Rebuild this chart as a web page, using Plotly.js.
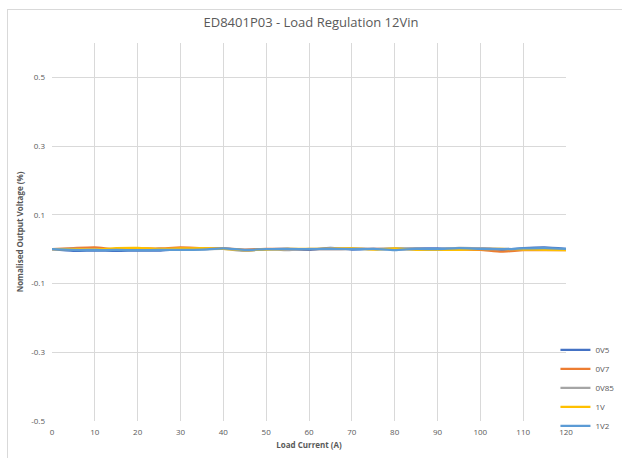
<!DOCTYPE html>
<html>
<head>
<meta charset="utf-8">
<script src="https://cdn.plot.ly/plotly-3.0.1.min.js"></script>
<style>
  html, body { margin: 0; padding: 0; background: #ffffff; }
  #wrap { position: relative; width: 622px; height: 458px; overflow: hidden; }
  #chart { position: absolute; left: 0; top: 0; width: 622px; height: 458px; }
  #frame { position: absolute; left: 7px; top: 9px; width: 620px; height: 460px; border: 1px solid #d9d9d9; box-sizing: border-box; pointer-events: none; }
</style>
</head>
<body>
<div id="wrap">
  <div id="chart"></div>
  <div id="frame"></div>
</div>
<script>
const loadCurrent = [0, 5, 10, 15, 20, 25, 30, 35, 40, 45, 50, 55, 60, 65, 70, 75, 80, 85, 90, 95, 100, 105, 110, 115, 120];

const v0V5  = [0, -0.005, -0.004, -0.005, -0.004, -0.004, 0, 0, 0.002, -0.003, 0, 0.001, -0.002, 0.004, -0.001, 0.001, 0, 0.002, 0.002, 0.001, 0.003, -0.002, 0.003, 0.005, 0.001];
const v0V7  = [0, 0.003, 0.005, -0.001, 0.002, 0.002, 0.005, 0.003, 0.002, -0.001, 0.001, 0.001, 0, 0, 0.001, 0.001, 0.001, 0, 0, -0.001, -0.002, -0.007, -0.003, -0.003, -0.003];
const v0V85 = [0, 0.001, 0, 0, -0.002, 0.001, -0.002, 0, 0.001, -0.005, 0, -0.003, 0.001, 0.002, 0.003, 0, 0.003, 0.002, 0, 0.004, 0.003, 0.001, 0, 0, 0];
const v1V   = [0, 0, -0.001, 0.003, 0.004, 0.001, 0.002, 0.003, 0.001, -0.003, -0.001, 0.001, 0.001, 0.001, 0.002, -0.001, 0.002, -0.002, -0.002, -0.002, 0, 0.001, -0.001, -0.002, -0.003];
const v1V2  = [0, -0.002, -0.003, -0.002, -0.003, -0.002, -0.002, -0.001, 0.002, -0.002, 0, 0.001, 0, 0, 0, 0.001, -0.003, 0.001, 0, 0.003, 0.001, 0, 0.002, 0.003, 0.001];

const seriesNames = ["0V5", "0V7", "0V85", "1V", "1V2"];
const seriesValues = [v0V5, v0V7, v0V85, v1V, v1V2];
const seriesColors = ["#4472C4", "#ED7D31", "#A5A5A5", "#FFC000", "#5B9BD5"];

const xTicks = [0, 10, 20, 30, 40, 50, 60, 70, 80, 90, 100, 110, 120];
const yTicks = [-0.5, -0.3, -0.1, 0.1, 0.3, 0.5];
const yTickLabels = ["-0.5", "-0.3", "-0.1", "0.1", "0.3", "0.5"];

const traces = seriesNames.map((name, i) => ({
  x: loadCurrent,
  y: seriesValues[i],
  name: name,
  type: "scatter",
  mode: "lines",
  line: { color: seriesColors[i], width: 2.25, shape: "spline", smoothing: 0.6 }
}));

const fontFam = "Open Sans, Noto Sans, Liberation Sans, sans-serif";
const layout = {
  width: 622,
  height: 458,
  margin: { l: 52, r: 56, t: 43, b: 37, autoexpand: false },
  paper_bgcolor: "#ffffff",
  plot_bgcolor: "#ffffff",
  font: { family: fontFam, color: "#595959", size: 8 },
  title: {
    text: "ED8401P03 - Load Regulation 12Vin",
    font: { family: fontFam, size: 13, color: "#595959" },
    x: 0.5, xanchor: "center", y: 0.95, yanchor: "middle", yref: "container"
  },
  xaxis: {
    range: [0, 120],
    tickvals: xTicks,
    ticktext: xTicks.map(String),
    showgrid: true,
    gridcolor: "#d9d9d9",
    gridwidth: 1,
    zeroline: false,
    showline: false,
    ticks: "",
    ticklabelstandoff: 5,
    tickfont: { size: 8, color: "#595959" },
    title: { text: "<b>Load Current (A)</b>", font: { size: 8, color: "#595959" }, standoff: 6 }
  },
  yaxis: {
    range: [-0.5, 0.6],
    tickvals: yTicks,
    ticktext: yTickLabels,
    showgrid: true,
    gridcolor: "#d9d9d9",
    gridwidth: 1,
    zeroline: false,
    showline: false,
    ticks: "",
    ticklabelstandoff: 6,
    tickfont: { size: 8, color: "#595959" },
    title: { text: "<b>Nomalised Output Voltage (%)</b>", font: { size: 8, color: "#595959" }, standoff: 6 }
  },
  showlegend: true,
  legend: {
    xref: "container", yref: "container",
    x: 0.893, xanchor: "left",
    y: 0.153, yanchor: "middle",
    font: { size: 8, color: "#595959" },
    bgcolor: "rgba(0,0,0,0)",
    itemwidth: 30,
    tracegroupgap: 0
  }
};

Plotly.newPlot("chart", traces, layout, { displayModeBar: false, staticPlot: true });
</script>
</body>
</html>
